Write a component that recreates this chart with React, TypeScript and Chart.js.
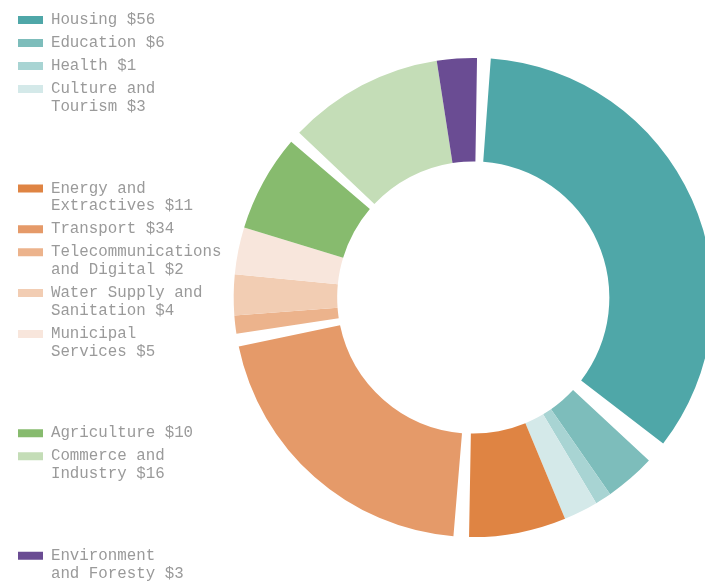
import { useEffect, useRef } from 'react';
import { Chart, registerables } from 'chart.js';

Chart.register(...registerables);

// Legend / category text, split into the lines shown in the legend
const categoryLines: string[][] = [
  ['Housing'],
  ['Education'],
  ['Health'],
  ['Culture and', 'Tourism'],
  ['Energy and', 'Extractives'],
  ['Transport'],
  ['Telecommunications', 'and Digital'],
  ['Water Supply and', 'Sanitation'],
  ['Municipal', 'Services'],
  ['Agriculture'],
  ['Commerce and', 'Industry'],
  ['Environment', 'and Foresty'],
];

// Dollar amounts printed in the legend
const amounts = [56, 6, 1, 3, 11, 34, 2, 4, 5, 10, 16, 3];

// Slice sizes as read from the ring
const sliceValues = [56.1, 5.6, 1.8, 3.8, 10.7, 33.4, 2.0, 4.5, 5.2, 10.7, 17.2, 4.4];

// White gap slices that follow some categories in the ring
const gapsAfter = [2.4, 0, 0, 0, 1.7, 1.4, 0, 0, 0, 1.3, 0, 1.5];

// Sector group of each category (legend gets a blank block between groups)
const groups = [0, 0, 0, 0, 1, 1, 1, 1, 1, 2, 2, 3];

const colors = [
  '#4fa7a8', '#7dbdbb', '#a8d4d3', '#d4e9e9',
  '#df8443', '#e59a69', '#ecb38c', '#f2cdb3', '#f8e6dc',
  '#87bb6e', '#c4ddb7',
  '#6a4c93',
];

const TEXT_COLOR = '#9a9a9a';
const FONT_FAMILY = "'Liberation Mono', 'DejaVu Sans Mono', monospace";

export default function App() {
  const canvasRef = useRef<HTMLCanvasElement | null>(null);

  useEffect(() => {
    if (!canvasRef.current) return;

    const ringValues: number[] = [];
    const ringColors: string[] = [];
    const ringLabels: string[] = [];
    sliceValues.forEach((v, i) => {
      ringValues.push(v);
      ringColors.push(colors[i]);
      ringLabels.push(categoryLines[i].join(' '));
      if (gapsAfter[i] > 0) {
        ringValues.push(gapsAfter[i]);
        ringColors.push('rgba(255,255,255,0)');
        ringLabels.push('');
      }
    });

    const chart = new Chart(canvasRef.current, {
      type: 'doughnut',
      data: {
        labels: ringLabels,
        datasets: [
          {
            data: ringValues,
            backgroundColor: ringColors,
            borderWidth: 0,
            hoverOffset: 0,
          },
        ],
      },
      options: {
        animation: false,
        responsive: true,
        maintainAspectRatio: false,
        rotation: 4.2,
        radius: 239.6,
        cutout: '56.8%',
        layout: { padding: { left: 4.8, top: 0, right: 0, bottom: 0 } },
        plugins: {
          tooltip: { enabled: false },
          legend: {
            position: 'left',
            align: 'start',
            title: {
              display: true,
              text: '',
              padding: 0,
              font: { size: 7, lineHeight: '7px' },
            },
            labels: {
              boxWidth: 25,
              boxHeight: 8,
              padding: 5.2,
              color: TEXT_COLOR,
              font: { family: FONT_FAMILY, size: 15.8, lineHeight: '17.8px' },
              generateLabels: () => {
                const items: any[] = [];
                categoryLines.forEach((lines, i) => {
                  if (i > 0 && groups[i] !== groups[i - 1]) {
                    items.push({
                      text: ['', '', ''],
                      fillStyle: 'rgba(0,0,0,0)',
                      strokeStyle: 'rgba(0,0,0,0)',
                      lineWidth: 0,
                      hidden: false,
                      fontColor: TEXT_COLOR,
                      textAlign: 'left',
                    });
                  }
                  const text = lines.slice();
                  text[text.length - 1] = text[text.length - 1] + ' $' + amounts[i];
                  items.push({
                    text,
                    fillStyle: colors[i],
                    strokeStyle: colors[i],
                    lineWidth: 0,
                    hidden: false,
                    fontColor: TEXT_COLOR,
                    textAlign: 'left',
                  });
                });
                return items;
              },
            },
          },
        },
      } as any,
    });

    return () => chart.destroy();
  }, []);

  return (
    <div
      style={{
        position: 'fixed',
        left: 0,
        top: 0,
        width: '100vw',
        height: '100vh',
        overflow: 'hidden',
        background: '#ffffff',
      }}
    >
      <div style={{ position: 'absolute', left: 8, top: 0, width: 707, height: 595 }}>
        <canvas ref={canvasRef} />
      </div>
    </div>
  );
}
